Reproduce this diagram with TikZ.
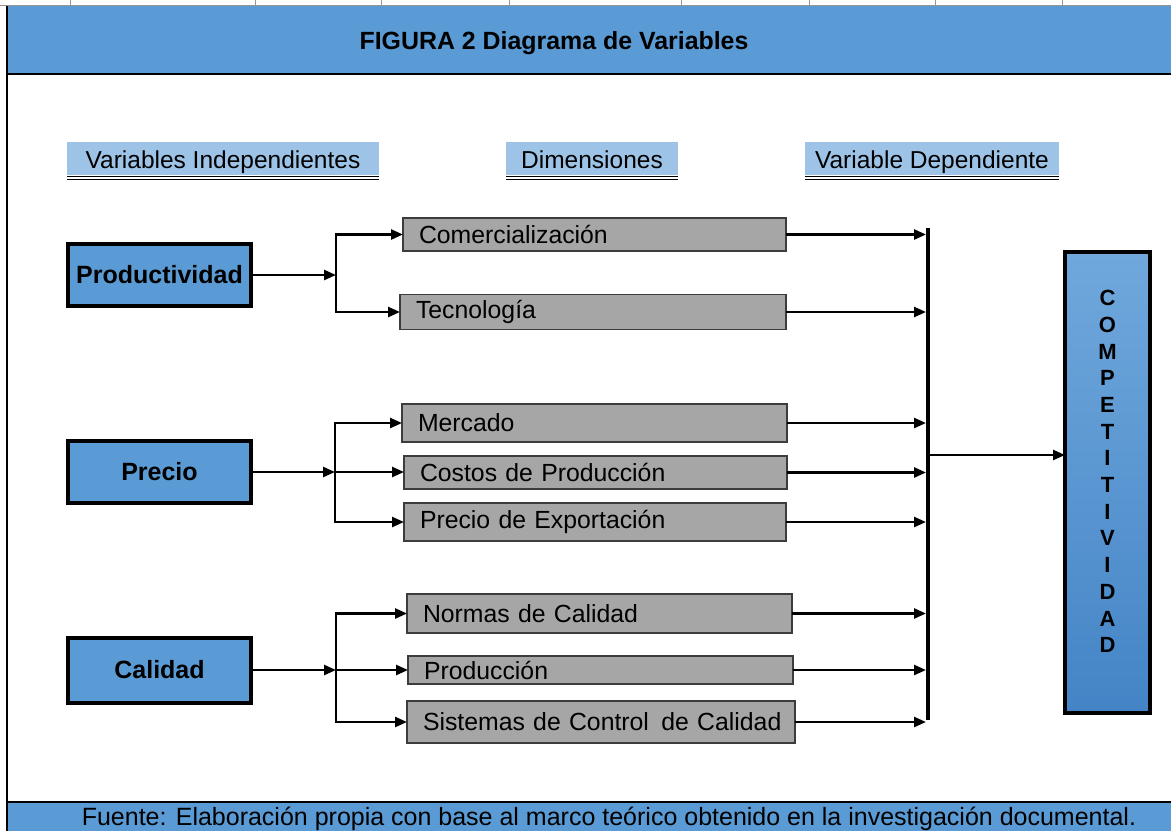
\documentclass[tikz,border=0pt]{standalone}
\usepackage{fontspec}
\setmainfont{Liberation Sans}
\usetikzlibrary{arrows.meta}

\definecolor{hdblue}{RGB}{91,155,213}
\definecolor{lblblue}{RGB}{157,195,230}
\definecolor{dimfill}{RGB}{166,166,166}
\definecolor{dimdraw}{RGB}{60,60,60}
\definecolor{gridgray}{RGB}{150,150,150}
\definecolor{comptop}{RGB}{112,168,220}
\definecolor{compbot}{RGB}{68,132,198}

\begin{document}
\begin{tikzpicture}[
  x=1pt,
  y=-1pt,
  every node/.style={inner sep=0pt, outer sep=0pt},
  titletext/.style={font=\bfseries\fontsize{24.9}{27}\selectfont, text=black},
  srctext/.style={font=\fontsize{25}{27}\selectfont, text=black},
  colhead/.style={fill=lblblue, minimum height=33pt, text height=22pt, text depth=2pt, font=\fontsize{24.5}{26}\selectfont},
  uline/.style={line width=1.3pt, double distance=1.5pt},
  varbox/.style={draw=black, fill=hdblue, line width=4pt, minimum width=183pt, font=\bfseries\fontsize{25}{27}\selectfont},
  dimbox/.style={draw=dimdraw, fill=dimfill, line width=1.5pt, inner xsep=16pt, align=left, font=\fontsize{24.8}{26}\selectfont},
  compbox/.style={draw=black, line width=4pt, top color=comptop, bottom color=compbot},
  complabel/.style={align=center, font=\bfseries\fontsize{22}{26.7}\selectfont},
  bar/.style={line width=4pt},
  flow/.style={line width=2.5pt, -{Triangle[length=12pt,width=10pt]}}
]

  \useasboundingbox (0,0) rectangle (1171,831);

  % Sheet frame
  \fill[hdblue] (7,6) rectangle (1171,74);
  \draw[gridgray, line width=0.8pt] (0,5.5) -- (1171,5.5);
  \draw[gridgray, line width=1pt] (70,0) -- (70,6);
  \draw[gridgray, line width=1pt] (255,0) -- (255,6);
  \draw[gridgray, line width=1pt] (381,0) -- (381,6);
  \draw[gridgray, line width=1pt] (509,0) -- (509,6);
  \draw[gridgray, line width=1pt] (681,0) -- (681,6);
  \draw[gridgray, line width=1pt] (809,0) -- (809,6);
  \draw[gridgray, line width=1pt] (935,0) -- (935,6);
  \draw[gridgray, line width=1pt] (1062,0) -- (1062,6);
  \draw[line width=2.5pt] (7,74) -- (1171,74);
  \begin{scope}
    \clip (7,803) rectangle (1171,831);
    \fill[hdblue] (7,803) rectangle (1171,831);
    \node[srctext] (source) at (609,819) {Fuente: Elaboración propia con base al marco teórico obtenido en la investigación documental.};
  \end{scope}
  \draw[line width=2.5pt] (7,802) -- (1171,802);
  \draw[line width=2.5pt] (7,6) -- (7,831);

  \node[titletext] (title) at (554,43) {FIGURA 2 Diagrama de Variables};

  % Column headings
  \node[colhead, minimum width=312pt] (vi) at (223,158.5) {Variables Independientes};
  \node[colhead, minimum width=172pt] (dim) at (592,158.5) {Dimensiones};
  \node[colhead, minimum width=254pt] (vd) at (932,158.5) {Variable Dependiente};
  \draw[uline] ([yshift=-2.9pt]vi.south west) -- ([yshift=-2.9pt]vi.south east);
  \draw[uline] ([yshift=-2.9pt]dim.south west) -- ([yshift=-2.9pt]dim.south east);
  \draw[uline] ([yshift=-2.9pt]vd.south west) -- ([yshift=-2.9pt]vd.south east);

  % Independent variables
  \node[varbox, minimum height=62pt] (prod) at (159.5,275) {Productividad};
  \node[varbox, minimum height=62pt] (prec) at (159.5,472) {Precio};
  \node[varbox, minimum height=65pt] (cal) at (159.5,670) {Calidad};

  % Dimensions
  \node[dimbox, text width=351pt, minimum height=33pt] (com) at (594.5,234.5) {Comercialización};
  \node[dimbox, text width=354pt, minimum height=35pt] (tec) at (593,312) {Tecnología};
  \node[dimbox, text width=353pt, minimum height=38pt] (mer) at (594.5,423) {Mercado};
  \node[dimbox, text width=351pt, minimum height=33pt] (cos) at (595.5,472.5) {Costos de Producción};
  \node[dimbox, text width=350pt, minimum height=38pt] (pex) at (595,522) {Precio de Exportación};
  \node[dimbox, text width=353pt, minimum height=39pt] (nor) at (599.5,613.5) {Normas de Calidad};
  \node[dimbox, text width=353pt, minimum height=28pt] (pro) at (600.5,670) {Producción};
  \node[dimbox, text width=356pt, minimum height=42pt] (sis) at (601,722) {\mbox{Sistemas de Control\, de Calidad}};

  % Dependent variable
  \node[compbox, minimum width=85pt, minimum height=461pt] (comp) at (1107.5,482.5) {};
  \node[complabel] (comptxt) at (1107.5,471.5) {C\\O\\M\\P\\E\\T\\I\\T\\I\\V\\I\\D\\A\\D};

  % Branch points
  \coordinate (b1) at (336,275);
  \coordinate (b2) at (335,472);
  \coordinate (b3) at (336,670);

  \draw[flow] (prod) -- (b1);
  \draw[flow] (b1) |- (com);
  \draw[flow] (b1) |- (tec);

  \draw[flow] (prec) -- (b2);
  \draw[flow] (b2) |- (mer);
  \draw[flow] (b2) -- (b2 -| cos.west);
  \draw[flow] (b2) |- (pex);

  \draw[flow] (cal) -- (b3);
  \draw[flow] (b3) |- (nor);
  \draw[flow] (b3) -- (b3 -| pro.west);
  \draw[flow] (b3) |- (sis);

  % Collector bar
  \coordinate (bartop) at (928,228);
  \coordinate (barbot) at (928,720);
  \coordinate (barout) at (928,455);
  \draw[bar] (bartop) -- (barbot);

  \draw[flow, shorten >=2pt] (com) -- (com -| bartop);
  \draw[flow, shorten >=2pt] (tec) -- (tec -| bartop);
  \draw[flow, shorten >=2pt] (mer) -- (mer -| bartop);
  \draw[flow, shorten >=2pt] (cos) -- (cos -| bartop);
  \draw[flow, shorten >=2pt] (pex) -- (pex -| bartop);
  \draw[flow, shorten >=2pt] (nor) -- (nor -| bartop);
  \draw[flow, shorten >=2pt] (pro) -- (pro -| bartop);
  \draw[flow, shorten >=2pt] (sis) -- (sis -| bartop);

  \draw[flow] (barout) -- (barout -| comp.west);

\end{tikzpicture}
\end{document}
